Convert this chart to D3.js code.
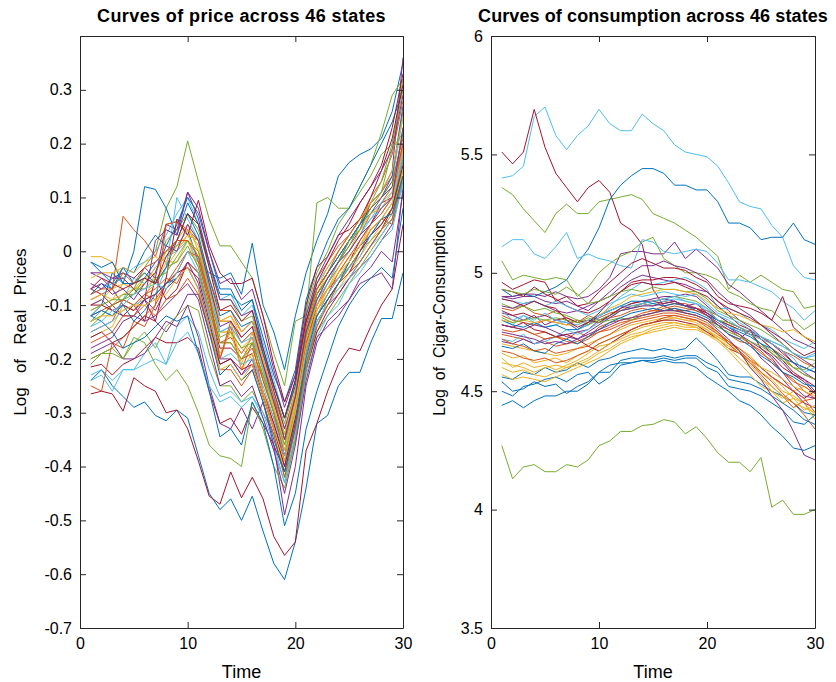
<!DOCTYPE html>
<html>
<head>
<meta charset="utf-8">
<script src="https://cdn.jsdelivr.net/npm/d3@7/dist/d3.min.js"></script>
<style>
body { margin: 0; background: #fff; }
text { font-family: "Liberation Sans", Arial, Helvetica, sans-serif; fill: #000; }
</style>
</head>
<body>
<svg id="chart" width="836" height="682"></svg>
<script>
var time = [1,2,3,4,5,6,7,8,9,10,11,12,13,14,15,16,17,18,19,20,21,22,23,24,25,26,27,28,29,30];
var xTicks = [0, 10, 20, 30];
var priceTicks = [-0.7, -0.6, -0.5, -0.4, -0.3, -0.2, -0.1, 0, 0.1, 0.2, 0.3];
var consTicks = [3.5, 4, 4.5, 5, 5.5, 6];
var colors = ["#0072BD", "#D95319", "#EDB120", "#7E2F8E", "#77AC30", "#4DBEEE", "#A2142F"];

// log real price, one row per state
var price = [
[-0.02,-0.04,-0.06,-0.03,-0.06,-0.05,-0.02,0.0,0.01,0.04,-0.02,-0.04,-0.05,-0.04,-0.08,0.015,-0.10,-0.15,-0.22,-0.12,-0.04,0.02,0.07,0.14,0.165,0.18,0.19,0.21,0.26,0.35],
[-0.09,-0.08,-0.07,0.065,0.04,0.02,-0.01,0.05,0.055,0.04,0.02,-0.05,-0.11,-0.11,-0.15,-0.13,-0.20,-0.27,-0.33,-0.26,-0.14,-0.05,-0.02,0.01,0.03,0.06,0.09,0.11,0.14,0.26],
[-0.01,-0.01,-0.02,-0.05,-0.07,-0.09,-0.04,0.0,0.02,0.05,0.0,-0.07,-0.13,-0.12,-0.16,-0.14,-0.21,-0.28,-0.35,-0.27,-0.15,-0.08,-0.04,-0.01,0.02,0.05,0.08,0.10,0.12,0.22],
[-0.04,-0.05,-0.07,-0.10,-0.11,-0.09,-0.13,-0.15,-0.12,-0.08,-0.08,-0.15,-0.21,-0.20,-0.23,-0.21,-0.27,-0.32,-0.38,-0.31,-0.19,-0.12,-0.09,-0.06,-0.03,0.0,0.03,0.05,0.08,0.18],
[-0.14,-0.12,-0.10,-0.09,-0.08,-0.06,-0.04,0.02,0.04,0.07,0.04,-0.03,-0.09,-0.09,-0.13,-0.12,-0.19,-0.26,-0.32,-0.25,-0.11,-0.04,0.0,0.05,0.08,0.11,0.14,0.18,0.20,0.32],
[-0.08,-0.07,-0.06,-0.05,-0.03,-0.02,0.0,0.03,0.07,0.10,0.05,-0.02,-0.09,-0.08,-0.12,-0.10,-0.17,-0.24,-0.31,-0.24,-0.12,-0.06,-0.03,0.0,0.03,0.06,0.08,0.10,0.13,0.25],
[-0.07,-0.08,-0.10,-0.12,-0.10,-0.13,-0.05,-0.09,-0.07,-0.02,-0.04,-0.11,-0.18,-0.18,-0.20,-0.19,-0.26,-0.32,-0.39,-0.31,-0.18,-0.10,-0.07,-0.05,-0.02,0.02,0.05,0.09,0.10,0.20],
[-0.24,-0.22,-0.25,-0.27,-0.29,-0.28,-0.305,-0.315,-0.295,-0.31,-0.38,-0.45,-0.48,-0.46,-0.50,-0.455,-0.52,-0.58,-0.61,-0.54,-0.44,-0.32,-0.305,-0.25,-0.225,-0.225,-0.17,-0.125,-0.125,-0.04],
[-0.15,-0.14,-0.13,-0.09,-0.10,-0.08,-0.07,-0.05,-0.06,-0.02,-0.04,-0.12,-0.20,-0.14,-0.22,-0.17,-0.26,-0.31,-0.37,-0.29,-0.17,-0.10,-0.06,-0.03,0.0,0.03,0.07,0.09,0.12,0.20],
[-0.10,-0.09,-0.07,-0.06,-0.06,-0.04,-0.06,-0.03,0.0,0.03,-0.01,-0.09,-0.15,-0.15,-0.18,-0.20,-0.23,-0.30,-0.37,-0.30,-0.18,-0.11,-0.07,-0.04,-0.01,0.01,0.04,0.06,0.09,0.17],
[-0.18,-0.17,-0.16,-0.13,-0.12,-0.09,-0.11,-0.07,-0.05,-0.02,-0.06,-0.14,-0.20,-0.20,-0.23,-0.20,-0.27,-0.33,-0.40,-0.32,-0.21,-0.13,-0.10,-0.08,-0.05,-0.03,-0.01,0.02,0.05,0.13],
[-0.13,-0.12,-0.10,-0.09,-0.07,-0.03,0.0,0.08,0.12,0.205,0.13,0.06,0.01,0.01,-0.02,-0.05,-0.12,-0.19,-0.25,-0.13,-0.12,0.09,0.10,0.08,0.08,0.12,0.16,0.22,0.29,0.32],
[-0.13,-0.11,-0.12,-0.09,-0.05,-0.06,-0.03,-0.01,0.0,0.02,-0.02,-0.09,-0.15,-0.14,-0.17,-0.15,-0.22,-0.29,-0.36,-0.28,-0.16,-0.09,-0.05,-0.02,0.02,0.04,0.06,0.09,0.11,0.19],
[-0.265,-0.26,-0.265,-0.297,-0.235,-0.25,-0.26,-0.30,-0.295,-0.33,-0.39,-0.455,-0.47,-0.41,-0.458,-0.42,-0.46,-0.53,-0.565,-0.54,-0.37,-0.32,-0.26,-0.21,-0.18,-0.185,-0.14,-0.10,-0.07,0.05],
[-0.12,-0.10,-0.04,-0.06,0.0,0.12,0.115,0.08,0.03,0.09,0.05,-0.02,-0.08,-0.08,-0.10,-0.09,-0.18,-0.25,-0.31,-0.25,-0.13,-0.07,-0.04,-0.01,0.02,0.05,0.07,0.10,0.12,0.22],
[-0.20,-0.19,-0.18,-0.16,-0.14,-0.12,-0.10,-0.06,-0.04,0.0,-0.02,-0.10,-0.17,-0.16,-0.19,-0.16,-0.24,-0.30,-0.38,-0.30,-0.18,-0.11,-0.08,-0.05,-0.03,0.0,0.04,0.06,0.05,0.14],
[-0.16,-0.15,-0.14,-0.10,-0.11,-0.08,-0.06,-0.02,-0.02,0.02,-0.03,-0.11,-0.19,-0.15,-0.22,-0.19,-0.26,-0.33,-0.41,-0.31,-0.19,-0.11,-0.08,-0.05,-0.02,0.01,0.05,0.07,0.10,0.18],
[-0.06,-0.07,-0.05,-0.04,-0.05,-0.03,-0.05,0.05,0.04,0.11,0.06,-0.02,-0.09,-0.09,-0.12,-0.11,-0.19,-0.26,-0.33,-0.27,-0.15,-0.08,-0.05,-0.02,0.01,0.04,0.09,0.11,0.15,0.36],
[-0.21,-0.19,-0.18,-0.20,-0.17,-0.15,-0.18,-0.14,-0.12,-0.10,-0.11,-0.19,-0.25,-0.25,-0.28,-0.26,-0.30,-0.34,-0.42,-0.35,-0.22,-0.15,-0.12,-0.09,-0.06,-0.03,0.0,0.03,0.06,0.15],
[-0.23,-0.22,-0.24,-0.22,-0.22,-0.19,-0.17,-0.21,-0.14,-0.12,-0.15,-0.22,-0.27,-0.26,-0.28,-0.27,-0.30,-0.36,-0.43,-0.35,-0.23,-0.16,-0.12,-0.10,-0.06,-0.04,-0.01,0.02,0.04,0.13],
[-0.215,-0.21,-0.23,-0.21,-0.20,-0.18,-0.16,-0.17,-0.17,-0.16,-0.18,-0.26,-0.32,-0.31,-0.34,-0.29,-0.32,-0.36,-0.41,-0.33,-0.22,-0.15,-0.11,-0.08,-0.05,-0.02,0.01,0.04,0.08,0.17],
[-0.08,-0.06,-0.07,-0.03,-0.04,0.0,0.03,0.01,0.05,0.10,0.07,0.0,-0.07,-0.07,-0.11,-0.09,-0.16,-0.23,-0.28,-0.22,-0.09,-0.03,0.02,0.06,0.08,0.12,0.16,0.20,0.24,0.30],
[-0.25,-0.26,-0.17,-0.18,-0.13,-0.14,-0.10,0.05,0.055,0.03,0.02,-0.06,-0.13,-0.13,-0.17,-0.15,-0.22,-0.28,-0.34,-0.27,-0.15,-0.08,-0.05,-0.02,0.02,0.05,0.10,0.13,0.18,0.28],
[-0.11,-0.10,-0.09,-0.08,-0.07,-0.06,-0.03,-0.01,0.01,0.02,0.0,-0.07,-0.15,-0.15,-0.18,-0.16,-0.22,-0.29,-0.37,-0.29,-0.17,-0.12,-0.09,-0.07,-0.04,-0.01,0.02,0.05,0.08,0.15],
[-0.19,-0.18,-0.17,-0.20,-0.20,-0.19,-0.16,-0.13,-0.14,-0.10,-0.16,-0.25,-0.32,-0.33,-0.29,-0.33,-0.28,-0.36,-0.49,-0.40,-0.25,-0.17,-0.13,-0.11,-0.09,-0.06,-0.05,-0.04,-0.07,0.12],
[-0.20,-0.19,-0.19,-0.20,-0.16,-0.17,-0.21,-0.24,-0.22,-0.25,-0.30,-0.36,-0.38,-0.385,-0.40,-0.28,-0.33,-0.40,-0.44,-0.35,-0.22,-0.14,-0.09,-0.06,-0.03,0.0,0.02,0.04,0.07,0.16],
[-0.24,-0.23,-0.26,-0.22,-0.22,-0.21,-0.20,-0.21,-0.17,-0.15,-0.19,-0.25,-0.28,-0.27,-0.29,-0.27,-0.31,-0.37,-0.43,-0.34,-0.21,-0.13,-0.10,-0.07,-0.05,-0.02,0.01,0.03,0.06,0.12],
[-0.16,-0.15,-0.17,-0.16,-0.14,-0.12,-0.13,-0.05,0.06,0.03,0.095,0.01,-0.04,-0.06,-0.06,-0.05,-0.12,-0.21,-0.28,-0.23,-0.10,-0.03,-0.01,0.03,0.04,0.06,0.10,0.15,0.21,0.31],
[-0.12,-0.13,-0.15,-0.18,-0.17,-0.16,-0.14,-0.12,-0.13,-0.12,-0.19,-0.26,-0.345,-0.33,-0.36,-0.28,-0.32,-0.40,-0.51,-0.45,-0.33,-0.26,-0.20,-0.14,-0.10,-0.07,-0.05,-0.03,-0.05,0.08],
[-0.12,-0.11,-0.10,-0.09,-0.10,-0.08,-0.09,-0.06,-0.03,0.0,-0.01,-0.09,-0.17,-0.17,-0.20,-0.18,-0.24,-0.30,-0.38,-0.30,-0.17,-0.12,-0.08,-0.04,-0.01,0.02,0.05,0.07,0.10,0.19],
[-0.09,-0.08,-0.09,-0.06,-0.07,-0.05,-0.04,0.0,0.01,0.04,0.01,-0.07,-0.13,-0.13,-0.21,-0.15,-0.22,-0.29,-0.36,-0.28,-0.16,-0.10,-0.07,-0.03,0.0,0.04,0.07,0.08,0.11,0.23],
[-0.10,-0.09,-0.11,-0.12,-0.12,-0.13,-0.12,-0.10,-0.08,-0.06,-0.09,-0.17,-0.25,-0.24,-0.27,-0.25,-0.31,-0.37,-0.45,-0.36,-0.24,-0.16,-0.14,-0.12,-0.09,-0.05,-0.03,0.0,-0.02,0.11],
[-0.13,-0.12,-0.10,-0.08,-0.08,-0.05,-0.06,-0.03,-0.02,0.01,-0.03,-0.11,-0.17,-0.17,-0.20,-0.17,-0.23,-0.28,-0.34,-0.27,-0.16,-0.09,-0.06,-0.02,0.01,0.05,0.09,0.13,0.20,0.30],
[-0.15,-0.14,-0.13,-0.11,-0.10,-0.09,-0.08,-0.03,0.10,0.06,0.02,-0.07,-0.15,-0.14,-0.17,-0.16,-0.22,-0.28,-0.34,-0.27,-0.15,-0.09,-0.06,-0.02,0.0,0.03,0.06,0.08,0.10,0.18],
[-0.10,-0.10,-0.11,-0.10,-0.11,-0.09,-0.08,-0.06,-0.04,-0.03,-0.05,-0.13,-0.21,-0.20,-0.22,-0.21,-0.27,-0.33,-0.40,-0.31,-0.19,-0.12,-0.09,-0.06,-0.04,0.0,0.03,0.05,0.08,0.16],
[-0.02,-0.03,-0.02,-0.06,-0.06,-0.04,-0.06,-0.03,0.02,0.07,0.03,-0.05,-0.12,-0.11,-0.14,-0.13,-0.19,-0.25,-0.31,-0.24,-0.13,-0.07,-0.04,-0.01,0.02,0.05,0.08,0.10,0.14,0.27],
[-0.17,-0.16,-0.15,-0.12,-0.12,-0.10,-0.12,-0.09,-0.08,-0.05,-0.08,-0.15,-0.22,-0.22,-0.25,-0.22,-0.28,-0.34,-0.42,-0.33,-0.21,-0.14,-0.10,-0.06,-0.04,-0.02,0.01,0.04,0.06,0.14],
[-0.05,-0.04,-0.04,-0.03,-0.04,-0.02,-0.01,-0.02,0.01,0.03,0.02,-0.06,-0.13,-0.12,-0.15,-0.13,-0.20,-0.27,-0.34,-0.26,-0.14,-0.07,-0.03,0.0,0.03,0.06,0.09,0.11,0.15,0.25],
[-0.04,-0.04,-0.05,-0.05,-0.07,-0.09,0.02,0.04,0.03,0.11,0.08,0.0,-0.06,-0.05,-0.09,-0.07,-0.14,-0.22,-0.29,-0.23,-0.12,-0.05,-0.01,0.03,0.06,0.09,0.12,0.15,0.19,0.29],
[-0.11,-0.10,-0.09,-0.09,-0.07,-0.07,-0.05,-0.04,-0.01,0.02,0.0,-0.08,-0.16,-0.15,-0.18,-0.17,-0.23,-0.30,-0.36,-0.27,-0.15,-0.08,-0.05,-0.02,0.02,0.04,0.08,0.11,0.19,0.22],
[-0.14,-0.13,-0.11,-0.10,-0.08,-0.07,-0.06,-0.07,-0.04,0.0,-0.04,-0.12,-0.20,-0.19,-0.21,-0.20,-0.25,-0.31,-0.38,-0.30,-0.19,-0.12,-0.08,-0.05,-0.03,-0.01,0.03,0.06,0.09,0.17],
[-0.07,-0.05,-0.06,-0.07,-0.06,-0.05,-0.06,-0.01,0.02,0.07,0.05,-0.03,-0.11,-0.10,-0.13,-0.11,-0.18,-0.25,-0.31,-0.24,-0.13,-0.06,-0.02,0.02,0.05,0.09,0.12,0.16,0.23,0.33],
[-0.12,-0.11,-0.12,-0.10,-0.13,-0.11,-0.08,-0.06,-0.05,-0.03,-0.07,-0.15,-0.23,-0.21,-0.24,-0.22,-0.28,-0.35,-0.41,-0.32,-0.20,-0.12,-0.09,-0.06,-0.02,0.01,0.03,0.06,0.07,0.14],
[-0.08,-0.07,-0.07,-0.04,-0.06,-0.03,-0.02,0.0,0.02,0.02,-0.01,-0.08,-0.20,-0.13,-0.16,-0.14,-0.21,-0.27,-0.35,-0.27,-0.14,-0.07,-0.04,0.0,0.03,0.06,0.08,0.10,0.13,0.21],
[-0.13,-0.12,-0.12,-0.11,-0.10,-0.10,-0.09,-0.08,-0.05,-0.03,-0.07,-0.14,-0.22,-0.21,-0.24,-0.21,-0.27,-0.33,-0.39,-0.30,-0.18,-0.11,-0.07,-0.04,-0.02,0.01,0.04,0.06,0.09,0.19],
[-0.07,-0.06,-0.08,-0.07,-0.09,-0.06,-0.04,0.01,0.0,0.05,0.02,-0.06,-0.14,-0.13,-0.16,-0.14,-0.21,-0.28,-0.35,-0.27,-0.15,-0.09,-0.05,-0.02,0.0,0.03,0.05,0.08,0.10,0.23]
];

// log cigarette consumption per capita, one row per state
var consumption = [
[4.56,4.55,4.58,4.57,4.60,4.58,4.59,4.62,4.60,4.63,4.64,4.66,4.67,4.68,4.67,4.68,4.67,4.68,4.725,4.68,4.63,4.57,4.56,4.56,4.53,4.50,4.48,4.45,4.41,4.40],
[4.82,4.80,4.79,4.78,4.80,4.79,4.78,4.80,4.79,4.81,4.83,4.84,4.86,4.87,4.86,4.88,4.87,4.86,4.85,4.83,4.80,4.78,4.76,4.74,4.72,4.68,4.65,4.60,4.57,4.55],
[4.66,4.64,4.65,4.62,4.63,4.64,4.62,4.65,4.67,4.70,4.72,4.74,4.76,4.78,4.79,4.80,4.81,4.80,4.79,4.76,4.73,4.70,4.66,4.62,4.58,4.55,4.50,4.48,4.45,4.38],
[4.90,4.89,4.90,4.90,4.88,4.87,4.88,4.86,4.84,4.88,4.90,4.94,4.97,4.99,4.98,4.97,4.96,4.95,4.93,4.92,4.88,4.84,4.80,4.77,4.73,4.70,4.67,4.62,4.58,4.55],
[5.36,5.33,5.27,5.22,5.17,5.25,5.29,5.25,5.25,5.30,5.31,5.32,5.33,5.31,5.25,5.23,5.21,5.18,5.15,5.11,5.07,4.93,4.99,4.96,4.99,4.96,4.93,4.92,4.85,4.86],
[5.40,5.41,5.45,5.66,5.70,5.58,5.52,5.58,5.62,5.69,5.63,5.60,5.60,5.67,5.63,5.60,5.54,5.51,5.50,5.49,5.45,5.38,5.30,5.28,5.27,5.20,5.15,5.03,4.98,4.97],
[5.51,5.46,5.51,5.69,5.53,5.42,5.36,5.30,5.36,5.39,5.34,5.21,5.18,5.12,4.93,4.86,4.84,4.84,4.85,4.83,4.80,4.78,4.76,4.74,4.73,4.70,4.66,4.62,4.60,4.58],
[4.93,4.90,4.91,4.90,4.92,4.94,4.97,5.04,5.10,5.19,5.31,5.37,5.41,5.44,5.44,5.42,5.37,5.37,5.35,5.35,5.30,5.21,5.21,5.19,5.14,5.15,5.15,5.21,5.14,5.12],
[4.78,4.77,4.76,4.74,4.75,4.73,4.72,4.75,4.73,4.77,4.79,4.80,4.81,4.83,4.84,4.84,4.85,4.83,4.82,4.80,4.78,4.74,4.71,4.70,4.66,4.63,4.58,4.55,4.50,4.47],
[4.60,4.58,4.59,4.57,4.56,4.58,4.60,4.61,4.63,4.66,4.68,4.71,4.73,4.74,4.76,4.77,4.78,4.77,4.77,4.75,4.73,4.70,4.68,4.65,4.60,4.56,4.52,4.47,4.45,4.40],
[4.90,4.90,4.91,4.91,4.90,4.92,4.90,4.89,4.90,4.93,4.98,5.08,5.09,5.09,5.08,5.08,5.13,5.06,5.10,5.06,5.02,4.95,4.92,4.88,4.84,4.80,4.76,4.72,4.70,4.68],
[5.05,4.97,4.99,4.98,4.97,4.98,4.97,4.90,4.94,5.00,5.04,5.07,5.09,5.13,5.15,5.06,5.03,5.00,5.00,4.99,4.97,4.92,4.90,4.87,4.85,4.84,4.80,4.80,4.76,4.79],
[5.11,5.14,5.14,5.08,5.06,5.11,5.17,5.06,5.08,5.06,5.05,5.03,5.02,5.14,5.13,5.09,5.08,5.09,5.10,5.09,5.04,4.97,4.97,4.96,4.94,4.92,4.88,4.85,4.80,4.84],
[4.96,4.93,4.95,4.97,4.96,4.88,4.90,4.86,4.87,4.92,4.96,5.00,5.04,5.06,5.04,5.02,5.02,5.01,4.98,4.96,4.90,4.87,4.86,4.85,4.83,4.80,4.90,4.77,4.73,4.70],
[4.50,4.48,4.52,4.53,4.55,4.56,4.54,4.57,4.58,4.53,4.56,4.61,4.62,4.63,4.63,4.64,4.63,4.64,4.64,4.60,4.58,4.52,4.51,4.50,4.48,4.45,4.42,4.37,4.36,4.40],
[4.85,4.84,4.86,4.83,4.82,4.84,4.81,4.79,4.82,4.80,4.81,4.82,4.84,4.85,4.84,4.86,4.87,4.87,4.85,4.84,4.82,4.79,4.77,4.75,4.73,4.70,4.67,4.65,4.62,4.60],
[4.70,4.69,4.68,4.67,4.66,4.65,4.66,4.68,4.70,4.72,4.74,4.76,4.78,4.79,4.80,4.81,4.81,4.80,4.80,4.78,4.74,4.70,4.66,4.61,4.56,4.50,4.47,4.50,4.52,4.49],
[4.83,4.82,4.80,4.82,4.78,4.80,4.79,4.76,4.78,4.82,4.84,4.86,4.85,4.87,4.88,4.89,4.88,4.86,4.87,4.83,4.80,4.77,4.74,4.70,4.64,4.60,4.55,4.50,4.45,4.43],
[4.27,4.13,4.18,4.19,4.16,4.16,4.19,4.18,4.21,4.27,4.29,4.33,4.33,4.355,4.36,4.38,4.37,4.32,4.35,4.30,4.24,4.20,4.20,4.16,4.22,4.01,4.04,3.98,3.98,4.00],
[4.80,4.78,4.82,4.79,4.77,4.78,4.80,4.76,4.78,4.81,4.86,4.90,4.93,4.96,4.95,4.96,4.97,4.98,4.96,4.93,4.85,4.85,4.83,4.80,4.78,4.76,4.72,4.70,4.68,4.71],
[4.93,4.92,4.90,4.94,4.91,4.89,4.86,4.84,4.83,4.85,4.88,4.92,4.95,4.96,4.95,4.95,4.96,4.94,4.92,4.90,4.86,4.82,4.78,4.76,4.72,4.68,4.63,4.58,4.55,4.52],
[4.44,4.46,4.43,4.46,4.48,4.48,4.50,4.50,4.53,4.58,4.61,4.62,4.62,4.63,4.62,4.63,4.62,4.62,4.60,4.56,4.53,4.50,4.46,4.44,4.40,4.35,4.31,4.26,4.25,4.27],
[4.74,4.73,4.72,4.70,4.71,4.69,4.70,4.71,4.73,4.75,4.77,4.79,4.80,4.81,4.82,4.83,4.83,4.82,4.81,4.79,4.75,4.70,4.66,4.62,4.57,4.52,4.48,4.43,4.46,4.47],
[4.64,4.60,4.62,4.60,4.61,4.59,4.61,4.63,4.66,4.69,4.70,4.73,4.75,4.77,4.78,4.79,4.79,4.78,4.77,4.74,4.71,4.67,4.62,4.57,4.52,4.50,4.45,4.47,4.42,4.44],
[4.71,4.70,4.72,4.70,4.72,4.73,4.74,4.75,4.76,4.80,4.82,4.85,4.87,4.88,4.89,4.90,4.90,4.91,4.90,4.86,4.82,4.79,4.77,4.74,4.70,4.66,4.62,4.57,4.55,4.50],
[4.87,4.85,4.86,4.84,4.85,4.83,4.82,4.80,4.78,4.80,4.82,4.84,4.85,4.87,4.88,4.89,4.90,4.89,4.88,4.85,4.80,4.79,4.77,4.74,4.70,4.67,4.64,4.60,4.59,4.62],
[4.72,4.71,4.74,4.70,4.71,4.73,4.76,4.74,4.76,4.79,4.81,4.84,4.85,4.86,4.87,4.88,4.89,4.88,4.87,4.85,4.82,4.80,4.77,4.75,4.73,4.71,4.69,4.66,4.64,4.66],
[4.78,4.77,4.79,4.76,4.75,4.73,4.74,4.72,4.69,4.67,4.70,4.73,4.76,4.78,4.79,4.80,4.80,4.79,4.78,4.75,4.72,4.68,4.66,4.63,4.60,4.56,4.53,4.50,4.47,4.50],
[4.54,4.50,4.51,4.54,4.52,4.53,4.49,4.52,4.54,4.58,4.58,4.63,4.64,4.64,4.64,4.65,4.64,4.65,4.65,4.62,4.60,4.55,4.54,4.53,4.51,4.48,4.45,4.42,4.38,4.36],
[4.67,4.66,4.64,4.63,4.64,4.62,4.63,4.65,4.67,4.70,4.72,4.74,4.76,4.78,4.79,4.81,4.82,4.81,4.80,4.77,4.74,4.71,4.68,4.64,4.60,4.56,4.53,4.50,4.47,4.41],
[4.62,4.61,4.60,4.58,4.60,4.61,4.60,4.62,4.64,4.67,4.70,4.72,4.74,4.75,4.77,4.78,4.79,4.78,4.78,4.76,4.72,4.68,4.64,4.60,4.55,4.52,4.48,4.45,4.43,4.41],
[4.86,4.85,4.87,4.88,4.86,4.84,4.83,4.84,4.86,4.88,4.92,4.96,5.00,5.03,5.03,5.05,5.03,5.02,5.00,4.97,4.92,4.88,4.85,4.82,4.78,4.74,4.70,4.66,4.63,4.60],
[4.93,4.92,4.91,4.93,4.92,4.91,4.94,4.91,4.87,4.88,4.90,4.92,4.93,4.92,4.94,4.93,4.93,4.92,4.92,4.89,4.84,4.82,4.80,4.78,4.76,4.73,4.70,4.66,4.64,4.63],
[4.89,4.88,4.87,4.88,4.86,4.88,4.86,4.84,4.82,4.84,4.87,4.89,4.91,4.90,4.91,4.92,4.91,4.90,4.91,4.87,4.83,4.81,4.79,4.76,4.73,4.71,4.69,4.66,4.64,4.65],
[4.84,4.82,4.83,4.81,4.82,4.80,4.81,4.79,4.80,4.79,4.82,4.85,4.87,4.88,4.88,4.87,4.88,4.86,4.85,4.82,4.78,4.74,4.72,4.76,4.68,4.65,4.60,4.57,4.54,4.49],
[4.80,4.78,4.77,4.79,4.77,4.78,4.76,4.76,4.79,4.82,4.84,4.86,4.88,4.88,4.87,4.86,4.87,4.86,4.84,4.82,4.80,4.77,4.75,4.73,4.70,4.68,4.64,4.62,4.60,4.58],
[4.76,4.75,4.76,4.74,4.72,4.73,4.71,4.70,4.72,4.75,4.76,4.78,4.80,4.82,4.83,4.85,4.86,4.85,4.84,4.82,4.78,4.76,4.73,4.70,4.67,4.62,4.58,4.54,4.52,4.49],
[4.80,4.79,4.80,4.79,4.80,4.79,4.78,4.78,4.80,4.82,4.85,4.87,4.90,4.91,4.92,4.93,4.93,4.92,4.91,4.88,4.85,4.83,4.82,4.80,4.78,4.77,4.75,4.76,4.73,4.71],
[4.78,4.77,4.76,4.78,4.77,4.75,4.73,4.72,4.75,4.78,4.81,4.84,4.85,4.86,4.86,4.87,4.88,4.86,4.85,4.82,4.79,4.76,4.74,4.71,4.68,4.64,4.58,4.52,4.48,4.47],
[4.81,4.79,4.80,4.81,4.80,4.81,4.80,4.79,4.81,4.79,4.80,4.81,4.80,4.82,4.83,4.84,4.84,4.83,4.82,4.80,4.77,4.75,4.73,4.71,4.69,4.66,4.63,4.60,4.57,4.55],
[4.84,4.80,4.82,4.80,4.83,4.80,4.79,4.78,4.80,4.82,4.84,4.86,4.86,4.87,4.88,4.89,4.90,4.88,4.87,4.84,4.80,4.77,4.76,4.74,4.72,4.70,4.67,4.64,4.58,4.60],
[4.89,4.88,4.86,4.88,4.86,4.85,4.80,4.77,4.79,4.83,4.88,4.92,4.96,4.97,4.97,4.98,4.98,4.97,4.95,4.92,4.88,4.85,4.83,4.81,4.78,4.75,4.72,4.68,4.65,4.67],
[4.69,4.68,4.70,4.67,4.66,4.70,4.72,4.70,4.73,4.76,4.79,4.81,4.83,4.84,4.85,4.84,4.85,4.84,4.83,4.81,4.78,4.74,4.72,4.69,4.65,4.62,4.58,4.56,4.53,4.52],
[4.72,4.70,4.69,4.67,4.68,4.66,4.67,4.68,4.69,4.72,4.74,4.77,4.79,4.80,4.81,4.82,4.82,4.81,4.80,4.78,4.75,4.71,4.67,4.63,4.58,4.54,4.49,4.45,4.40,4.34],
[4.57,4.55,4.56,4.55,4.54,4.56,4.58,4.60,4.62,4.64,4.67,4.70,4.72,4.74,4.75,4.76,4.77,4.76,4.76,4.74,4.72,4.69,4.66,4.63,4.60,4.58,4.55,4.52,4.50,4.48],
[4.75,4.74,4.73,4.72,4.70,4.71,4.70,4.72,4.74,4.76,4.78,4.80,4.81,4.82,4.83,4.84,4.84,4.83,4.82,4.80,4.76,4.72,4.67,4.60,4.55,4.48,4.42,4.33,4.23,4.21]
];

var svg = d3.select("#chart");

function fmt(d) {
    return String(+d.toFixed(1));
}

function drawPanel(opts) {
    var x = d3.scaleLinear().domain([0, 30]).range([opts.left, opts.right]);
    var y = d3.scaleLinear().domain(opts.yDomain).range([628, 36]);
    var g = svg.append("g");

    var line = d3.line()
        .x(function(d, i) { return x(time[i]); })
        .y(function(d) { return y(d); });

    g.selectAll("path.series")
        .data(opts.series)
        .enter().append("path")
        .attr("class", "series")
        .attr("d", line)
        .attr("fill", "none")
        .attr("stroke", function(d, i) { return colors[i % colors.length]; })
        .attr("stroke-width", 1);

    // box with inward ticks on all four sides
    g.append("g").attr("class", "axis")
        .attr("transform", "translate(0,628)")
        .call(d3.axisBottom(x).tickValues(xTicks).tickSize(-6).tickPadding(10).tickSizeOuter(0).tickFormat(d3.format("d")));
    g.append("g").attr("class", "axis")
        .attr("transform", "translate(0,36)")
        .call(d3.axisTop(x).tickValues(xTicks).tickSize(-6).tickSizeOuter(0).tickFormat(""));
    g.append("g").attr("class", "axis")
        .attr("transform", "translate(" + opts.left + ",0)")
        .call(d3.axisLeft(y).tickValues(opts.yTicks).tickSize(-6).tickPadding(8).tickSizeOuter(0).tickFormat(opts.yFormat));
    g.append("g").attr("class", "axis")
        .attr("transform", "translate(" + opts.right + ",0)")
        .call(d3.axisRight(y).tickValues(opts.yTicks).tickSize(-6).tickSizeOuter(0).tickFormat(""));

    g.selectAll(".axis text").style("font-size", "16px").style("font-family", "'Liberation Sans', Arial, sans-serif").attr("fill", "#000");
    g.selectAll(".axis .domain, .axis line").attr("stroke", "#262626");

    g.append("text")
        .attr("x", (opts.left + opts.right) / 2 + opts.titleShift)
        .attr("y", 22)
        .attr("text-anchor", "middle")
        .style("font-size", "18px")
        .style("font-weight", "bold")
        .style("letter-spacing", opts.titleSpacing)
        .text(opts.title);

    g.append("text")
        .attr("x", (opts.left + opts.right) / 2)
        .attr("y", 678)
        .attr("text-anchor", "middle")
        .style("font-size", "18px")
        .text("Time");

    g.append("text")
        .attr("transform", "translate(" + opts.ylabX + "," + opts.ylabY + ") rotate(-90)")
        .attr("text-anchor", "middle")
        .style("font-size", opts.ylabSize)
        .style("white-space", "pre")
        .text(opts.ylabel);
}

drawPanel({
    left: 80, right: 403,
    yDomain: [-0.7, 0.4],
    yTicks: priceTicks,
    yFormat: fmt,
    series: price,
    title: "Curves of price across 46 states",
    titleShift: 0,
    titleSpacing: "0.4px",
    ylabel: "Log   of   Real   Prices",
    ylabSize: "17px",
    ylabX: 26, ylabY: 332
});

drawPanel({
    left: 491, right: 815,
    yDomain: [3.5, 6],
    yTicks: consTicks,
    yFormat: fmt,
    series: consumption,
    title: "Curves of consumption across 46 states",
    titleShift: 0,
    titleSpacing: "0.1px",
    ylabel: "Log  of  Cigar-Consumption",
    ylabSize: "16px",
    ylabX: 445, ylabY: 318
});
</script>
</body>
</html>
